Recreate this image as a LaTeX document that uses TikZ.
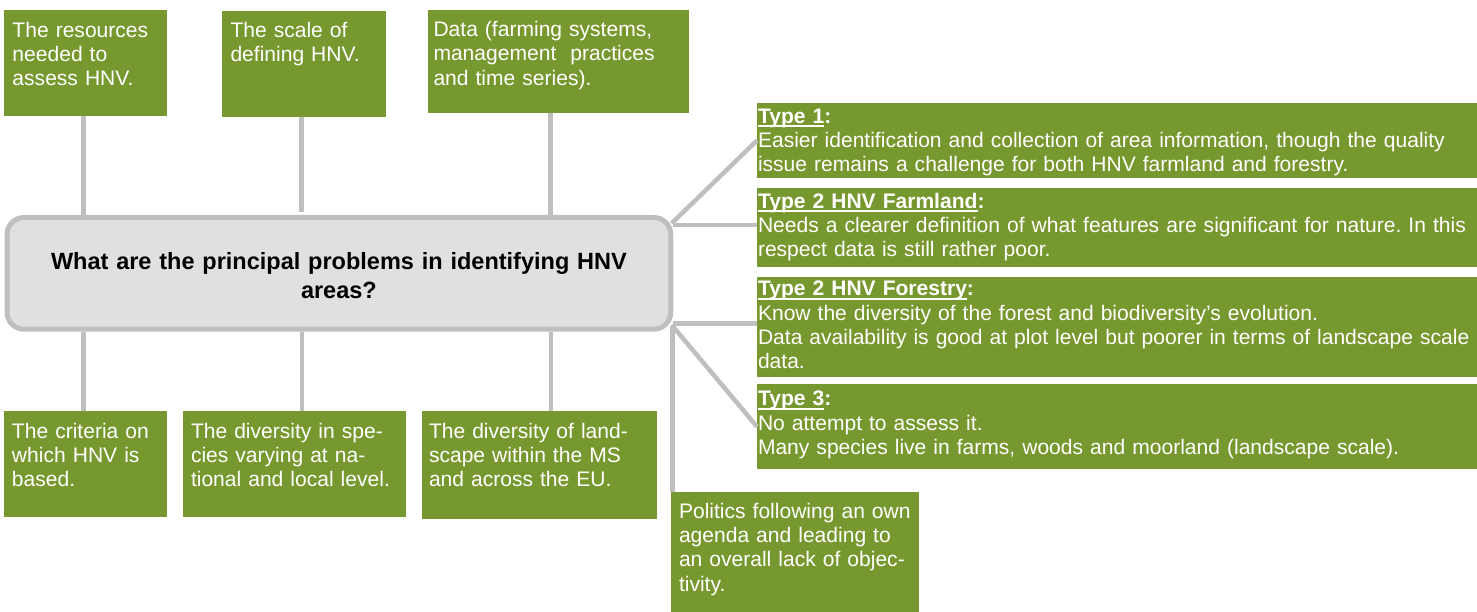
\documentclass[tikz,border=0pt]{standalone}
\usepackage{fontspec}
\setmainfont{Liberation Sans}
\usetikzlibrary{calc}
\definecolor{hnvgreen}{HTML}{77982E}
\definecolor{linegray}{HTML}{BFBFBF}
\definecolor{boxgray}{HTML}{E0E0E0}
\newcommand{\myul}[1]{\setbox0\hbox{#1}\rlap{\rule[-3.7pt]{\wd0}{2pt}}\box0}
\frenchspacing
\begin{document}
\begin{tikzpicture}[x=1pt,y=-1pt,
  gbox/.style={fill=hnvgreen, draw=none, inner sep=0pt, outer sep=0pt, anchor=north west},
  gtext/.style={text=white, inner sep=0pt, outer sep=0pt, anchor=north west, text width=1000pt, align=left, font=\fontsize{21.05}{24.3}\selectfont\frenchspacing},
  conn/.style={draw=linegray, line width=4.5pt},
  central/.style={draw=linegray, fill=boxgray, line width=5pt, rounded corners=17pt, inner sep=0pt, text width=640pt, align=center, font=\fontsize{23.5}{28.3}\selectfont\bfseries}
  ]
\useasboundingbox (0,0) rectangle (1477,612);

% central question
\node[central, minimum width=663.8pt, minimum height=111.7pt] (Q) at (338.9,273.35)
  {\rule{0pt}{30pt}What are the principal problems in identifying HNV\\areas?\strut};

% top boxes
\node[gbox, minimum width=163.8pt, minimum height=105.7pt] (A) at (3.6,10) {};
\node[gbox, minimum width=164.2pt, minimum height=105.7pt] (B) at (222,11) {};
\node[gbox, minimum width=261.3pt, minimum height=102.7pt] (C) at (427.7,10) {};
\node[gtext] (tA) at (12.5,20.2) {\noindent\strut The resources\\needed to\\assess HNV.};
\node[gtext] (tB) at (230.5,20.2) {\noindent\strut The scale of\\defining HNV.};
\node[gtext] (tC) at (433.5,19.6) {\noindent\strut Data (farming systems,\\management~ practices\\and time series).};

% bottom boxes
\node[gbox, minimum width=163.4pt, minimum height=105.7pt] (D) at (3.6,411) {};
\node[gbox, minimum width=223.5pt, minimum height=105.7pt] (E) at (182.5,411) {};
\node[gbox, minimum width=235.1pt, minimum height=108pt] (F) at (421.6,411) {};
\node[gbox, minimum width=248.3pt, minimum height=120.3pt] (G) at (671,491.7) {};
\node[gtext] (tD) at (12,421.2) {\noindent\strut The criteria on\\which HNV is\\based.};
\node[gtext] (tE) at (191,421.2) {\noindent\strut The diversity in spe-\\cies varying at na-\\tional and local level.};
\node[gtext] (tF) at (429,421.2) {\noindent\strut The diversity of land-\\scape within the MS\\and across the EU.};
\node[gtext] (tG) at (679,501.2) {\noindent\strut Politics following an own\\agenda and leading to\\an overall lack of objec-\\tivity.};

% right boxes
\node[gbox, minimum width=720pt, minimum height=75.6pt] (T1) at (757,102.7) {};
\node[gbox, minimum width=720pt, minimum height=79pt] (T2F) at (757,187.7) {};
\node[gbox, minimum width=720pt, minimum height=100pt] (T2Fo) at (757,276.7) {};
\node[gbox, minimum width=720pt, minimum height=85.3pt] (T3) at (757,384) {};
\node[gtext] (t1) at (758,106.2) {\noindent\strut\textbf{\myul{Type 1}:}\\Easier identification and collection of area information, though the quality\\issue remains a challenge for both HNV farmland and forestry.};
\node[gtext] (t2) at (758,191.2) {\noindent\strut\textbf{\myul{Type 2 HNV Farmland}:}\\Needs a clearer definition of what features are significant for nature. In this\\respect data is still rather poor.};
\node[gtext] (t3) at (758,278.9) {\noindent\strut\textbf{\myul{Type 2 HNV Forestry}:}\\Know the diversity of the forest and biodiversity’s evolution.\\Data availability is good at plot level but poorer in terms of landscape scale\\data.};
\node[gtext] (t4) at (758,388.9) {\noindent\strut\textbf{\myul{Type 3}:}\\No attempt to assess it.\\Many species live in farms, woods and moorland (landscape scale).};

% connectors top
\coordinate (xa) at (83.5,0);
\coordinate (xb) at (301.5,0);
\coordinate (xc) at (550.5,0);
\draw[conn] (A.south -| xa) -- (Q.north -| xa);
\draw[conn] (B.south -| xb) -- ([yshift=3pt]Q.north -| xb);
\draw[conn] (C.south -| xc) -- (Q.north -| xc);

% connectors bottom
\coordinate (xd) at (83.5,0);
\coordinate (xe) at (301.8,0);
\coordinate (xf) at (551,0);
\draw[conn] (Q.south -| xd) -- (D.north -| xd);
\draw[conn] (Q.south -| xe) -- (E.north -| xe);
\draw[conn] (Q.south -| xf) -- (F.north -| xf);
\coordinate (pg) at ($(Q.south east)+(-0.8,-6)$);
\draw[conn] (pg) -- (pg |- G.north);

% connectors right
\coordinate (s1) at ($(Q.north east)+(-1.6,8.3)$);
\draw[conn] (s1) -- (T1.west);
\coordinate (e2) at ($(T2F.west)+(0,-2)$);
\draw[conn] (e2 -| Q.east) -- (e2);
\coordinate (e3) at ($(T2Fo.west)+(0,-3.4)$);
\draw[conn] (e3 -| Q.east) -- (e3);
\coordinate (s4) at ($(Q.south east)+(-1.6,-6.7)$);
\draw[conn] (s4) -- (T3.west);
\end{tikzpicture}
\end{document}
